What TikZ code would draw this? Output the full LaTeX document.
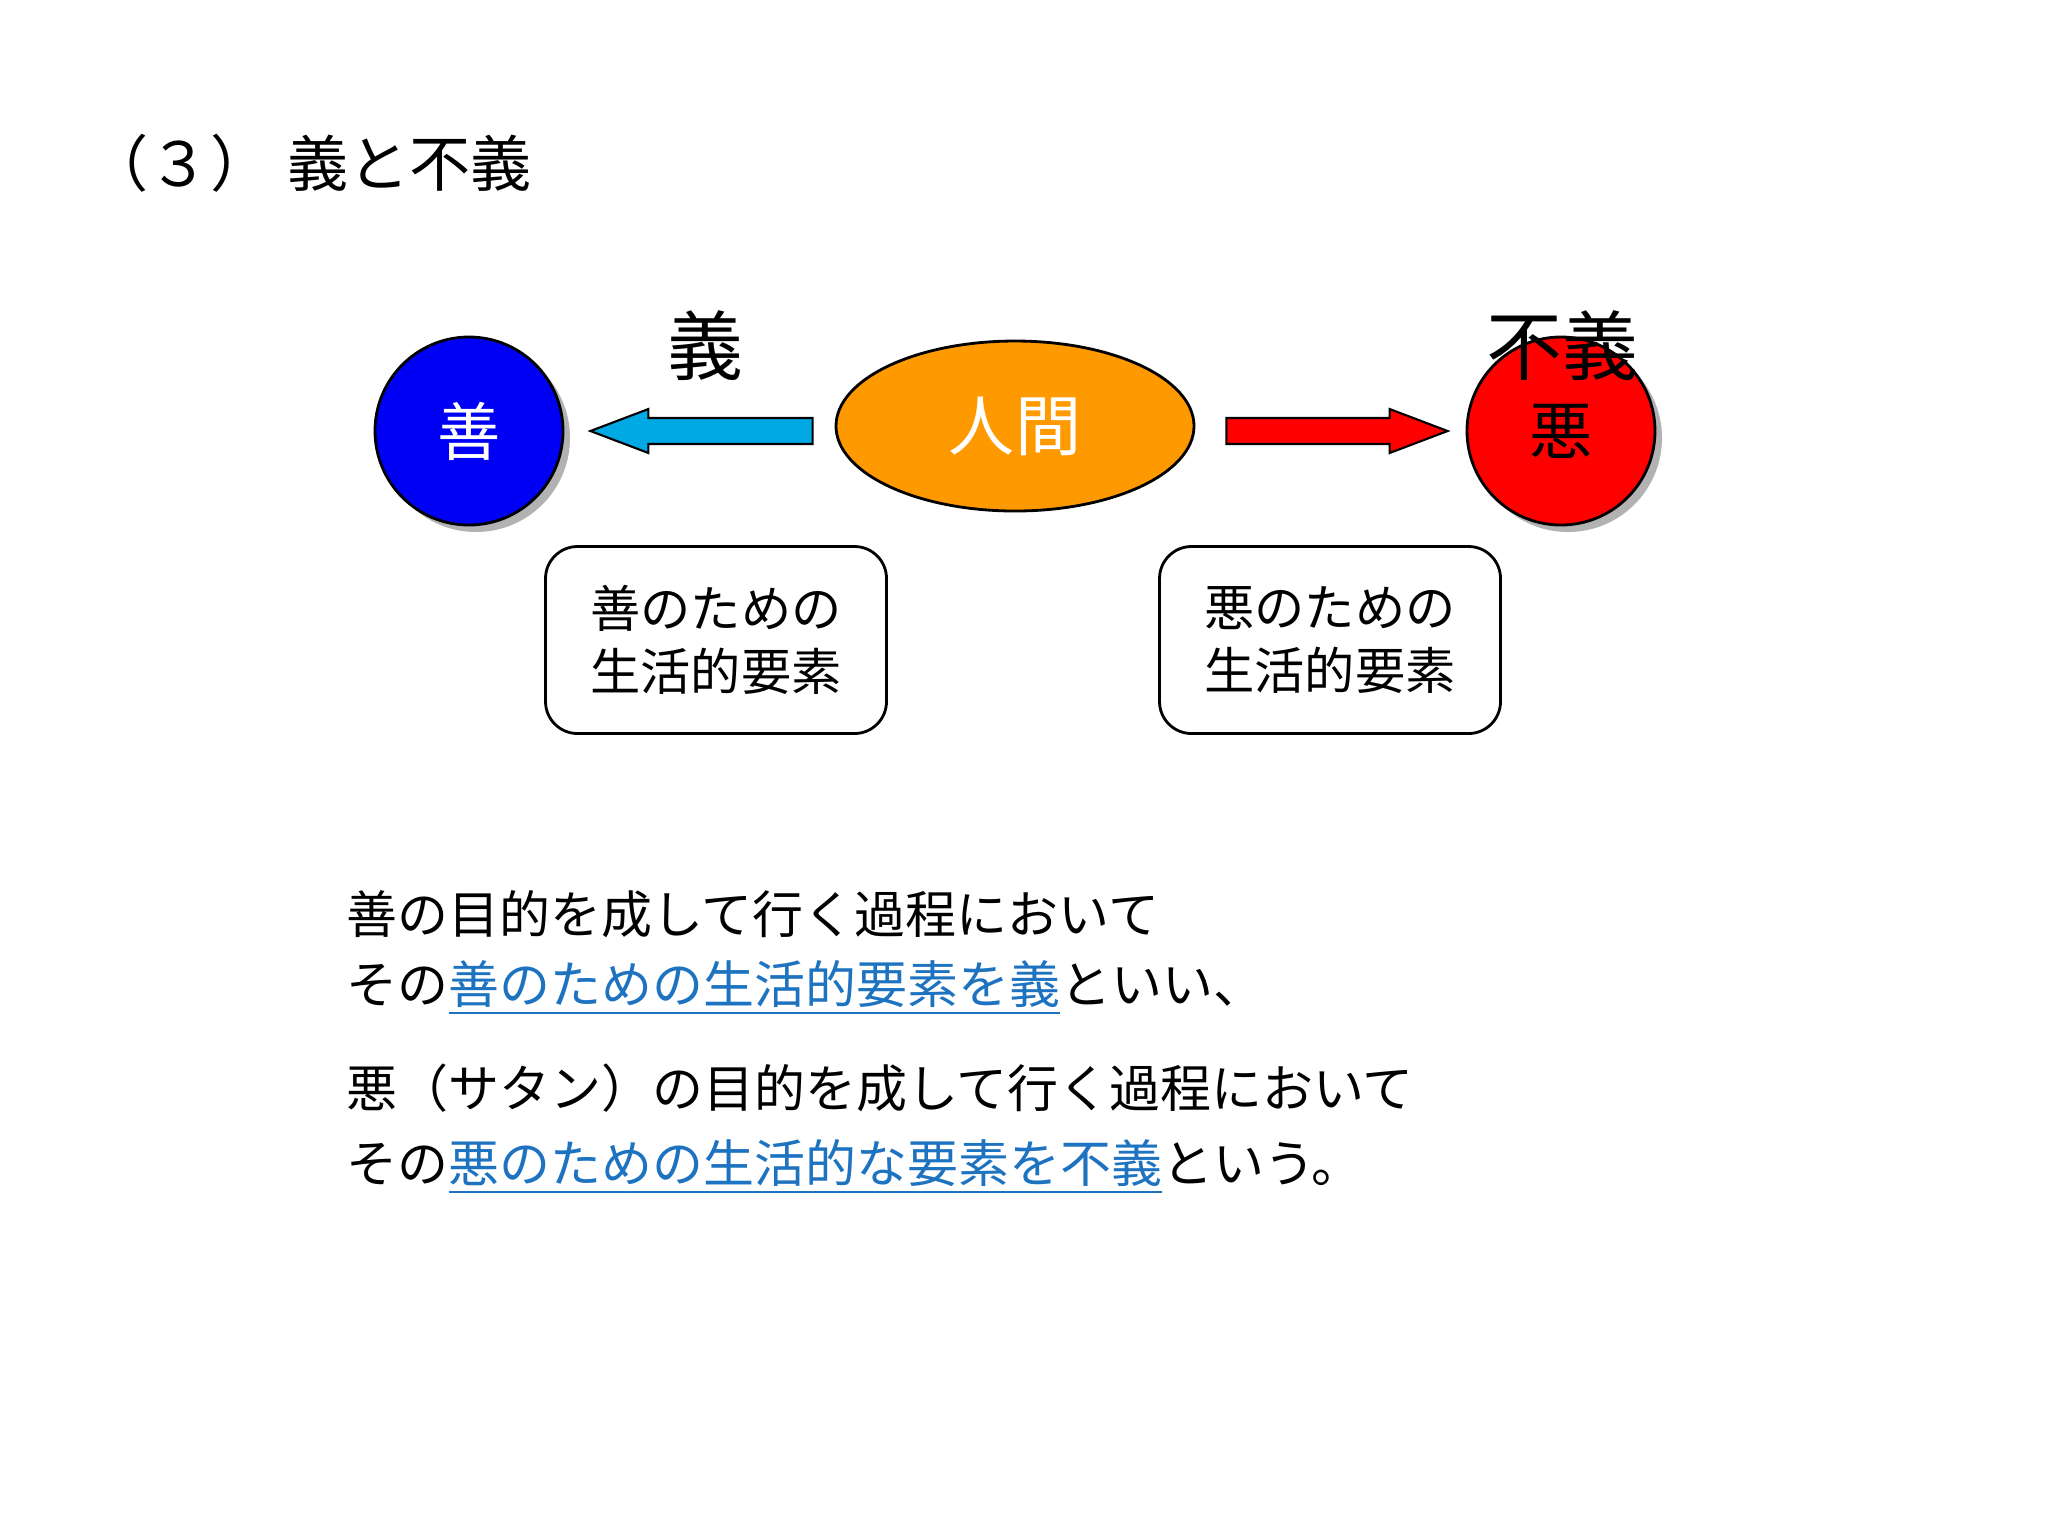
\documentclass[tikz,border=0pt]{standalone}
\usepackage{fontspec}
\usepackage{xcolor}
\usepackage{tikz}
\usetikzlibrary{positioning, shapes.geometric, shadows, calc}
\setmainfont{Noto Sans CJK JP}
\definecolor{goodBlue}{RGB}{0, 0, 245}
\definecolor{humanOrange}{RGB}{255, 153, 0}
\definecolor{evilRed}{RGB}{255, 0, 0}
\definecolor{arrowCyan}{RGB}{0, 168, 228}
\definecolor{linkBlue}{RGB}{30, 115, 192}
\newcommand{\tailgap}{2.4mm}
\newcommand{\tipgap}{2.4mm}
\tikzset{
    arrow_tail_gap/.store in=\tailgap,
    arrow_tip_gap/.store in=\tipgap,
    ball_state/.style={
        circle,
        draw=black,
        line width=0.8pt,
        minimum size=18.8mm,
        inner sep=0pt,
        font=\fontsize{18}{20}\selectfont,
        drop shadow={shadow xshift=0.7mm, shadow yshift=-0.7mm, fill=black, opacity=0.3}
    },
    good_state/.style={
        ball_state,
        fill=goodBlue,
        text=white
    },
    evil_state/.style={
        ball_state,
        fill=evilRed,
        text=black
    },
    human_state/.style={
        ellipse,
        draw=black,
        line width=0.8pt,
        fill=humanOrange,
        text=white,
        minimum width=35.8mm,
        minimum height=17mm,
        inner sep=0pt,
        font=\fontsize{18.8}{20}\selectfont
    },
    elem_box/.style={
        rectangle,
        rounded corners=3.2mm,
        draw=black,
        line width=0.8pt,
        minimum width=34.1mm,
        minimum height=18.7mm,
        align=center,
        font=\fontsize{14.3}{17.9}\selectfont
    },
    block_arrow/.style={
        draw=black,
        line width=0.6pt,
        to path={
            let \p1=(\tikztostart), \p2=(\tikztotarget),
                \n1={ifthenelse(\x2>\x1,1,-1)} in
            (\x1+\n1*\tailgap,\y2+1.3mm) -- (\x2-\n1*\tipgap-\n1*5.8mm,\y2+1.3mm)
            -- (\x2-\n1*\tipgap-\n1*5.8mm,\y2+2.2mm) -- (\x2-\n1*\tipgap,\y2)
            -- (\x2-\n1*\tipgap-\n1*5.8mm,\y2-2.2mm) -- (\x2-\n1*\tipgap-\n1*5.8mm,\y2-1.3mm)
            -- (\x1+\n1*\tailgap,\y2-1.3mm) -- cycle
        }
    },
    good_arrow/.style={
        block_arrow,
        fill=arrowCyan,
        arrow_tail_gap=2.2mm,
        arrow_tip_gap=2.6mm
    },
    evil_arrow/.style={
        block_arrow,
        fill=evilRed,
        arrow_tail_gap=3.1mm,
        arrow_tip_gap=1.8mm
    },
    arrow_label/.style={
        inner sep=0pt,
        font=\fontsize{21.6}{24}\selectfont
    },
    body_line/.style={
        anchor=west,
        inner sep=0pt,
        font=\fontsize{14.5}{18}\selectfont
    }
}

\begin{document}
\begin{tikzpicture}[x=0.1mm, y=-0.1mm, node distance=54.6mm]
    \fill[white] (0,0) rectangle (2048,1536);
    \useasboundingbox (0,0) rectangle (2048,1536);

    \node[anchor=west, inner sep=0pt, font=\fontsize{17.4}{20}\selectfont] (title)
        at (87,163) {（３）\hspace{1.6mm}義と不義};

    % states
    \node[human_state] (human) at (1015,426) {人間};
    \node[good_state, left of=human, yshift=-0.5mm] (good) {善};
    \node[evil_state, right of=human, yshift=-0.5mm] (evil) {悪};

    \draw[good_arrow] (human.west) to (good.east);
    \draw[evil_arrow] (human.east) to (evil.west);

    \node[arrow_label] (gi) at (705,346) {義};
    \node[arrow_label] (fugi) at (1562,346) {不義};

    % elements
    \node[elem_box] (goodElem) at (716,640) {善のための\\生活的要素};
    \node[elem_box] (evilElem) at (1330,640) {悪のための\\生活的要素};

    % text
    \node[body_line] (line1) at (346,914) {善の目的を成して行く過程において};
    \node[body_line] (line2) at (346,988)
        {その\textcolor{linkBlue}{\underline{善のための生活的要素を義}}といい、};
    \node[body_line] (line3) at (346,1088) {悪（サタン）の目的を成して行く過程において};
    \node[body_line] (line4) at (346,1167)
        {その\textcolor{linkBlue}{\underline{悪のための生活的な要素を不義}}という。};
\end{tikzpicture}
\end{document}
